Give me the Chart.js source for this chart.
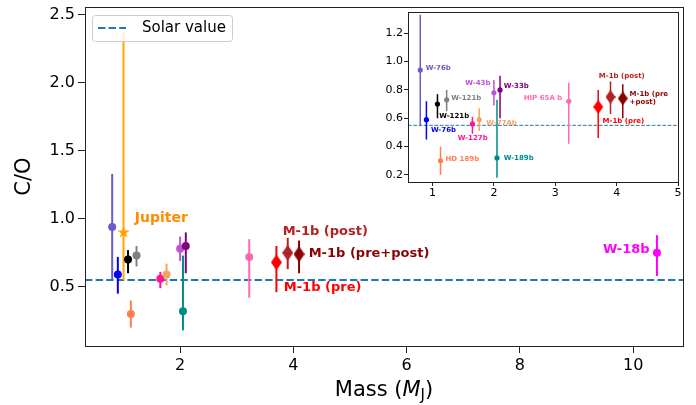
<!DOCTYPE html>
<html>
<head>
<meta charset="utf-8">
<script src="https://cdn.jsdelivr.net/npm/chart.js@4.4.1/dist/chart.umd.min.js"></script>
<style>
  html, body { margin: 0; padding: 0; background: #fff; }
  #wrap { position: relative; width: 696px; height: 405px; }
  #wrap canvas { position: absolute; left: 0; top: 0; }
</style>
</head>
<body>
<div id="wrap">
  <canvas id="main" width="696" height="405"></canvas>
  <canvas id="inset" width="696" height="405"></canvas>
</div>
<script>
// data
const PLANET = ['W-76b', 'W-76b', 'Jupiter', 'W-121b', 'W-121b', 'HD 189b', 'W-127b', 'W-77Ab',
                'W-43b', 'W-33b', 'W-189b', 'HIP 65A b', 'M-1b (pre)', 'M-1b (post)', 'M-1b (pre+post)', 'W-18b'];
const MASS   = [0.80, 0.90, 1.00, 1.08, 1.23, 1.13, 1.65, 1.76, 2.00, 2.10, 2.05, 3.22, 3.70, 3.90, 4.10, 10.42];
const CO     = [0.94, 0.59, 0.90, 0.70, 0.73, 0.30, 0.56, 0.59, 0.78, 0.80, 0.32, 0.72, 0.68, 0.75, 0.74, 0.75];
const ERR_LO = [0.39, 0.14, 0.35, 0.10, 0.08, 0.10, 0.07, 0.08, 0.09, 0.20, 0.14, 0.30, 0.22, 0.12, 0.14, 0.17];
const ERR_HI = [0.39, 0.13, 1.47, 0.07, 0.07, 0.10, 0.05, 0.08, 0.09, 0.10, 0.41, 0.13, 0.12, 0.11, 0.10, 0.13];
const SOLAR_CO = 0.55;

const MAIN_X_TICKS = [2, 4, 6, 8, 10];
const MAIN_Y_TICKS = [0.5, 1.0, 1.5, 2.0, 2.5];
const INSET_X_TICKS = [1, 2, 3, 4, 5];
const INSET_Y_TICKS = [0.2, 0.4, 0.6, 0.8, 1.0, 1.2];

// styling
const COLORS = ['#6a5acd', '#0000ff', '#ffa500', '#000000', '#808080', '#ff7f50', '#ff1493', '#f4a460',
                '#ba55d3', '#800080', '#008b8b', '#ff69b4', '#ff0000', '#b22222', '#8b0000', '#ff00ff'];
const MARKERS = ['o', 'o', 'star', 'o', 'o', 'o', 'o', 'o', 'o', 'o', 'o', 'o', 'd', 'd', 'd', 'o'];
const FONT = 'DejaVu Sans';

const ALL_IDX = PLANET.map((p, i) => i);
const INSET_IDX = ALL_IDX.filter(i => PLANET[i] !== 'Jupiter' && MASS[i] < 5);

function starImg(color, r) {
    const c = document.createElement('canvas');
    const s = Math.ceil(r * 2 + 2);
    c.width = s; c.height = s;
    const g = c.getContext('2d');
    g.fillStyle = color;
    g.beginPath();
    for (let k = 0; k < 10; k++) {
        const rr = k % 2 === 0 ? r : r * 0.4;
        const a = -Math.PI / 2 + k * Math.PI / 5;
        g.lineTo(s / 2 + rr * Math.cos(a), s / 2 + rr * Math.sin(a));
    }
    g.closePath();
    g.fill();
    return c;
}

function diamondImg(color, w, h) {
    const c = document.createElement('canvas');
    c.width = w; c.height = h;
    const g = c.getContext('2d');
    g.fillStyle = color;
    g.beginPath();
    g.moveTo(w / 2, 0);
    g.lineTo(w, h / 2);
    g.lineTo(w / 2, h);
    g.lineTo(0, h / 2);
    g.closePath();
    g.fill();
    return c;
}

function markerFor(i, big) {
    if (MARKERS[i] === 'star') return starImg(COLORS[i], big ? 6.5 : 4);
    if (MARKERS[i] === 'd') return diamondImg(COLORS[i], big ? 11 : 10, big ? 16 : 14);
    return 'circle';
}

function makeDataset(idx, big) {
    const styles = idx.map(i => markerFor(i, big));
    return {
        data: idx.map(i => ({x: MASS[i], y: CO[i]})),
        pointStyle: ctx => styles[ctx.dataIndex],
        pointRadius: big ? 4 : 2.6,
        pointBackgroundColor: idx.map(i => COLORS[i]),
        pointBorderWidth: 0,
        showLine: false
    };
}

// error bars + solar line, drawn under the markers
function underlayPlugin(idx, lw, solarLw, dash) {
    return {
        id: 'underlay',
        beforeDatasetsDraw(chart) {
            const {ctx, chartArea, scales: {x, y}} = chart;
            ctx.save();
            ctx.strokeStyle = '#1f77b4';
            ctx.lineWidth = solarLw;
            ctx.setLineDash(dash);
            const sy = y.getPixelForValue(SOLAR_CO);
            ctx.beginPath();
            ctx.moveTo(chartArea.left, sy);
            ctx.lineTo(chartArea.right, sy);
            ctx.stroke();
            ctx.setLineDash([]);
            ctx.lineWidth = lw;
            idx.forEach(i => {
                const px = x.getPixelForValue(MASS[i]);
                ctx.strokeStyle = COLORS[i];
                ctx.beginPath();
                ctx.moveTo(px, y.getPixelForValue(CO[i] - ERR_LO[i]));
                ctx.lineTo(px, y.getPixelForValue(CO[i] + ERR_HI[i]));
                ctx.stroke();
            });
            ctx.restore();
        }
    };
}

function notesPlugin(notes, size) {
    return {
        id: 'notes',
        afterDatasetsDraw(chart) {
            const {ctx, scales: {x, y}} = chart;
            ctx.save();
            ctx.textBaseline = 'middle';
            notes.forEach(n => {
                ctx.font = `bold ${n.size || size}px ${FONT}`;
                ctx.fillStyle = n.color;
                ctx.textAlign = n.align || 'left';
                ctx.fillText(n.text, x.getPixelForValue(n.x), y.getPixelForValue(n.y));
            });
            ctx.restore();
        }
    };
}

function framePlugin(fillWhole) {
    return {
        id: 'frame',
        beforeDraw(chart) {
            const {ctx, chartArea: a} = chart;
            ctx.save();
            ctx.fillStyle = '#fff';
            if (fillWhole) ctx.fillRect(0, 0, chart.width, chart.height);
            else ctx.fillRect(a.left, a.top, a.right - a.left, a.bottom - a.top);
            ctx.restore();
        },
        afterDraw(chart) {
            const {ctx, chartArea: a} = chart;
            ctx.save();
            ctx.strokeStyle = '#222';
            ctx.lineWidth = 1;
            ctx.strokeRect(Math.round(a.left) + 0.5, Math.round(a.top) + 0.5,
                           Math.round(a.right - a.left), Math.round(a.bottom - a.top));
            ctx.restore();
        }
    };
}

const mainExtras = {
    id: 'mainExtras',
    afterDraw(chart) {
        const {ctx, chartArea: a} = chart;
        ctx.save();
        // legend
        ctx.fillStyle = 'rgba(255,255,255,0.8)';
        ctx.strokeStyle = '#cccccc';
        ctx.lineWidth = 1;
        ctx.beginPath();
        ctx.roundRect(92.5, 15.5, 140, 26, 3);
        ctx.fill();
        ctx.stroke();
        ctx.strokeStyle = '#1f77b4';
        ctx.lineWidth = 2;
        ctx.setLineDash([7.4, 3.2]);
        ctx.beginPath();
        ctx.moveTo(98, 28);
        ctx.lineTo(126, 28);
        ctx.stroke();
        ctx.setLineDash([]);
        ctx.fillStyle = '#000';
        ctx.font = `15px ${FONT}`;
        ctx.textBaseline = 'middle';
        ctx.textAlign = 'left';
        ctx.fillText('Solar value', 142, 28);
        // x axis title: Mass (M_J)
        const big = `21px ${FONT}`, ital = `italic 21px ${FONT}`, sub = `15px ${FONT}`;
        ctx.textBaseline = 'alphabetic';
        const parts = [['Mass (', big, 0], ['M', ital, 0], ['J', sub, 4], [')', big, 0]];
        let w = 0;
        parts.forEach(p => { ctx.font = p[1]; w += ctx.measureText(p[0]).width; });
        let cx = (a.left + a.right) / 2 - w / 2;
        parts.forEach(p => {
            ctx.font = p[1];
            ctx.fillText(p[0], cx, 396 + p[2]);
            cx += ctx.measureText(p[0]).width;
        });
        ctx.restore();
    }
};

const MAIN_NOTES = [
    {text: 'Jupiter', x: 1.20, y: 1.00, color: '#ff8c00', size: 14},
    {text: 'M-1b (post)', x: 3.81, y: 0.905, color: '#b22222'},
    {text: 'M-1b (pre+post)', x: 4.27, y: 0.747, color: '#8b0000'},
    {text: 'M-1b (pre)', x: 3.83, y: 0.495, color: '#ff0000'},
    {text: 'W-18b', x: 10.29, y: 0.77, color: '#ff00ff', align: 'right'}
];

const INSET_NOTES = [
    {text: 'W-76b', x: 0.89, y: 0.953, color: '#6a5acd'},
    {text: 'W-121b', x: 1.306, y: 0.745, color: '#808080'},
    {text: 'W-43b', x: 1.943, y: 0.851, color: '#ba55d3', align: 'right'},
    {text: 'W-33b', x: 2.16, y: 0.823, color: '#800080'},
    {text: 'HIP 65A b', x: 3.114, y: 0.745, color: '#ff69b4', align: 'right'},
    {text: 'M-1b (post)', x: 3.71, y: 0.894, color: '#b22222'},
    {text: 'M-1b (pre', x: 4.21, y: 0.772, color: '#8b0000'},
    {text: '+post)', x: 4.21, y: 0.716, color: '#8b0000'},
    {text: 'W-121b', x: 1.11, y: 0.614, color: '#000000'},
    {text: 'W-76b', x: 0.974, y: 0.518, color: '#0000ff'},
    {text: 'W-77Ab', x: 1.877, y: 0.565, color: '#f4a460'},
    {text: 'W-127b', x: 1.41, y: 0.46, color: '#ff1493'},
    {text: 'M-1b (pre)', x: 3.77, y: 0.576, color: '#ff0000'},
    {text: 'HD 189b', x: 1.21, y: 0.313, color: '#ff7f50'},
    {text: 'W-189b', x: 2.16, y: 0.318, color: '#008b8b'}
];

function axis(min, max, ticks, fmt, fontSize, tl, pad, fit) {
    return {
        type: 'linear',
        min: min,
        max: max,
        afterBuildTicks: s => { s.ticks = ticks.map(v => ({value: v})); },
        afterFit: s => {
            fit(s);
            s.paddingTop = 0;
            s.paddingBottom = 0;
        },
        border: {display: false},
        grid: {drawOnChartArea: false, drawTicks: true, tickLength: tl, tickColor: '#222', tickWidth: 1},
        ticks: {
            color: '#000',
            padding: pad,
            maxRotation: 0,
            autoSkip: false,
            font: {family: FONT, size: fontSize},
            callback: v => fmt(v)
        }
    };
}

const mainY = axis(0.065, 2.557, MAIN_Y_TICKS, v => v.toFixed(1), 16, 7, 3, s => { s.width = 85; });
mainY.title = {display: true, text: 'C/O', color: '#000', font: {family: FONT, size: 21}, padding: {top: 12, bottom: 0}};

new Chart(document.getElementById('main'), {
    type: 'scatter',
    data: {datasets: [makeDataset(ALL_IDX, true)]},
    options: {
        responsive: false,
        animation: false,
        events: [],
        layout: {padding: {top: 7, right: 13, left: 0, bottom: 0}},
        plugins: {legend: {display: false}, tooltip: {enabled: false}},
        scales: {
            x: axis(0.32, 10.88, MAIN_X_TICKS, v => String(v), 16, 7, 3, s => { s.height = 59; }),
            y: mainY
        }
    },
    plugins: [framePlugin(true), underlayPlugin(ALL_IDX, 2, 2, [7.4, 3.2]), notesPlugin(MAIN_NOTES, 13), mainExtras]
});

new Chart(document.getElementById('inset'), {
    type: 'scatter',
    data: {datasets: [makeDataset(INSET_IDX, false)]},
    options: {
        responsive: false,
        animation: false,
        events: [],
        layout: {padding: {top: 12, right: 18, left: 378, bottom: 203}},
        plugins: {legend: {display: false}, tooltip: {enabled: false}},
        scales: {
            x: axis(0.6, 5.0, INSET_X_TICKS, v => String(v), 11, 4, 1, s => { s.height = 20; }),
            y: axis(0.15, 1.35, INSET_Y_TICKS, v => v.toFixed(1), 11, 4, 1, s => { s.width = 30; })
        }
    },
    plugins: [framePlugin(false), underlayPlugin(INSET_IDX, 1.5, 1, [3.7, 1.6]), notesPlugin(INSET_NOTES, 7)]
});
</script>
</body>
</html>
